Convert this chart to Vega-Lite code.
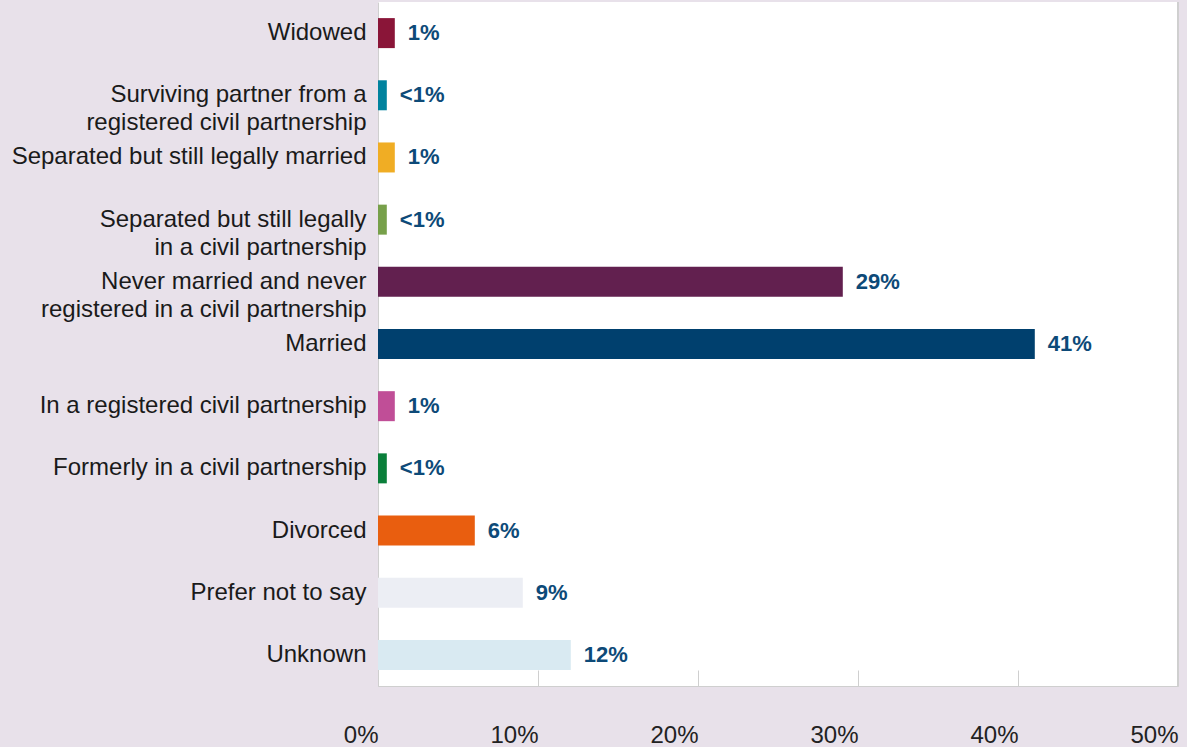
{
  "$schema": "https://vega.github.io/schema/vega-lite/v6.json",
  "autosize": {"type": "none"},
  "width": 800,
  "height": 684,
  "padding": {"left": 378, "top": 2, "right": 9, "bottom": 61},
  "background": "#e8e1ea",
  "config": {
    "view": {"fill": "#ffffff", "stroke": null},
    "font": "Liberation Sans"
  },
  "data": {
    "values": [
      {"category": "Widowed", "value": 1.05, "label": "1%"},
      {"category": "Surviving partner from a|registered civil partnership", "value": 0.55, "label": "<1%"},
      {"category": "Separated but still legally married", "value": 1.05, "label": "1%"},
      {"category": "Separated but still legally|in a civil partnership", "value": 0.55, "label": "<1%"},
      {"category": "Never married and never|registered in a civil partnership", "value": 29.05, "label": "29%"},
      {"category": "Married", "value": 41.05, "label": "41%"},
      {"category": "In a registered civil partnership", "value": 1.05, "label": "1%"},
      {"category": "Formerly in a civil partnership\u00a0", "value": 0.55, "label": "<1%"},
      {"category": "Divorced", "value": 6.05, "label": "6%"},
      {"category": "Prefer not to say", "value": 9.05, "label": "9%"},
      {"category": "Unknown", "value": 12.05, "label": "12%"}
    ]
  },
  "layer": [
    {
      "encoding": {
        "y": {
          "field": "category",
          "type": "nominal",
          "sort": null,
          "scale": {"paddingInner": 0.5175, "paddingOuter": 0.259},
          "axis": {
            "title": null,
            "ticks": false,
            "domainColor": "#cfcfcf",
            "labelFontSize": 24,
            "labelColor": "#1a1a1a",
            "labelPadding": 12,
            "labelLineHeight": 28,
            "labelLimit": 400,
            "labelExpr": "split(datum.value, '|')"
          }
        },
        "x": {
          "field": "value",
          "type": "quantitative",
          "scale": {"domain": [0, 50]},
          "axis": {
            "title": null,
            "grid": false,
            "values": [0, 10, 20, 30, 40, 50],
            "labelExpr": "datum.value + '%'",
            "domainColor": "#cfcfcf",
            "tickColor": "#cfcfcf",
            "tickSize": -16,
            "labelAlign": "right",
            "labelFontSize": 24,
            "labelColor": "#222222",
            "labelPadding": 53,
            "labelFlush": false,
            "labelOverlap": false
          }
        }
      },
      "layer": [
        {
          "mark": {"type": "bar"},
          "encoding": {
            "color": {
              "field": "category",
              "type": "nominal",
              "legend": null,
              "scale": {
                "domain": [
                  "Widowed",
                  "Surviving partner from a|registered civil partnership",
                  "Separated but still legally married",
                  "Separated but still legally|in a civil partnership",
                  "Never married and never|registered in a civil partnership",
                  "Married",
                  "In a registered civil partnership",
                  "Formerly in a civil partnership\u00a0",
                  "Divorced",
                  "Prefer not to say",
                  "Unknown"
                ],
                "range": [
                  "#8a1538", "#00829e", "#f0ad24", "#77a04a", "#62204f", "#00406e",
                  "#c04e97", "#0a7f3a", "#e95e0f", "#eceef4", "#d9eaf2"
                ]
              }
            }
          }
        },
        {
          "mark": {
            "type": "text",
            "align": "left",
            "baseline": "middle",
            "dx": 13,
            "fontSize": 22,
            "fontWeight": "bold",
            "color": "#0d4a78"
          },
          "encoding": {"text": {"field": "label"}}
        }
      ]
    },
    {
      "mark": {"type": "rule", "color": "#cfcfcf"},
      "encoding": {"x": {"datum": 50, "type": "quantitative"}}
    }
  ]
}
